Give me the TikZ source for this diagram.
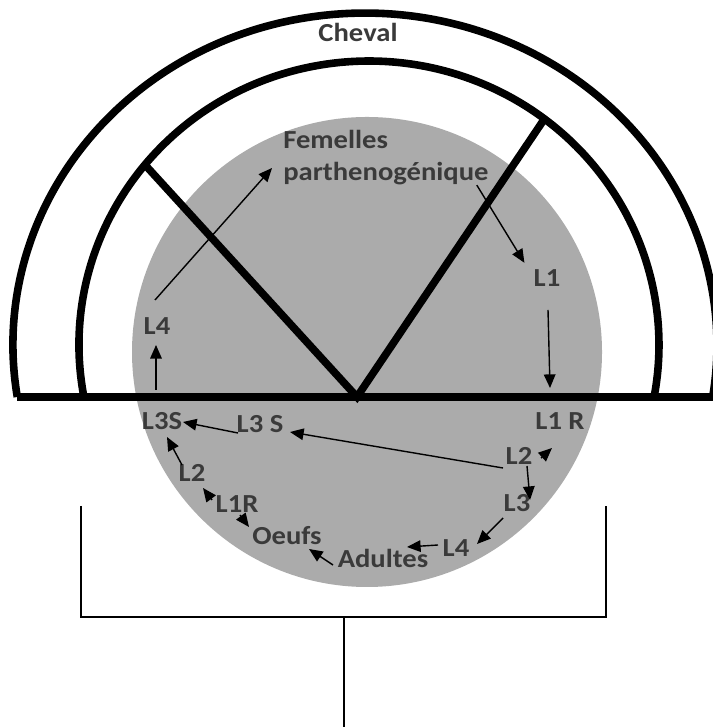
\documentclass[tikz,border=0pt]{standalone}
\usepackage{fontspec}
\setmainfont{Carlito}[FakeStretch=1.1]
\usetikzlibrary{arrows.meta}
\definecolor{cyclegrey}{HTML}{ABABAB}
\definecolor{lblgrey}{HTML}{3A3A3A}
\tikzset{
  >={Triangle[length=3.4mm,width=2.9mm]},
  lbl/.style={font=\fontsize{18.5}{22.7}\selectfont\bfseries,text=lblgrey,
              inner sep=0pt,anchor=base},
  wall/.style={line width=5.4pt},
  flow/.style={->,line width=1pt,draw=black},
  brk/.style={line width=1.3pt},
}

\begin{document}
\begin{tikzpicture}[x=0.025cm,y=0.025cm]
  \useasboundingbox (0,0) rectangle (712,727);

  % host body and parasite cycle
  \fill[cyclegrey] (367,375) circle[radius=235];
  \draw[wall] (17.3,330) arc[start angle=189,end angle=-9,x radius=352,y radius=332];
  \draw[wall] (83.9,330) arc[start angle=190.55,end angle=-10.55,x radius=290,y radius=284];
  \draw[wall] (17.3,330) -- (714,330);
  \draw[wall] (147,560) -- (357,330) -- (545,609);

  % labels
  \node[lbl] (cheval) at (358,685) {Cheval};
  \node[lbl,anchor=north west,align=left] (fem) at (283,597) {Femelles\\parthenogénique};
  \node[lbl] (l1) at (547,440) {L1};
  \node[lbl] (l4a) at (157,392) {L4};
  \node[lbl] (l3s) at (162,297) {L3S};
  \node[lbl] (l3sp) at (260,294) {L3 S};
  \node[lbl] (l1rr) at (560,297) {L1 R};
  \node[lbl] (l2r) at (519,262) {L2};
  \node[lbl] (l3) at (517,215) {L3};
  \node[lbl] (l4b) at (456,170) {L4};
  \node[lbl] (adu) at (383,159) {Adultes};
  \node[lbl] (oeu) at (287,182) {Oeufs};
  \node[lbl] (l1rl) at (237,214) {L1R};
  \node[lbl] (l2l) at (192,245) {L2};

  % inside the horse
  \draw[flow] ([shift={(-12,0)}]fem.south east) -- ([shift={(-9,7)}]l1.north west);
  \draw[flow] ([shift={(1,-23)}]l1.base) -- ([shift={(-10,42)}]l1rr.base);
  \draw[flow] ([shift={(-6,40)}]l3s.base) -- ([shift={(-1,-10)}]l4a.base);
  \draw[flow] ([shift={(-2,35)}]l4a.base) -- ([shift={(-11,-38)}]fem.north west);

  % free-living stages
  \draw[flow] ([shift={(-22,0)}]l3sp.base) -- ([shift={(21,8)}]l3s.base);
  \draw[flow] ([shift={(-16,-3)}]l2r.base) -- ([shift={(30,1)}]l3sp.base);
  \draw[flow] ([shift={(22,7)}]l2r.base) -- ([shift={(-8,-18)}]l1rr.base);
  \draw[flow] ([shift={(8,-1)}]l2r.base) -- ([shift={(13,12)}]l3.base);
  \draw[flow] ([shift={(-14,-6)}]l3.base) -- ([shift={(21,13)}]l4b.base);
  \draw[flow] ([shift={(-18,12)}]l4b.base) -- ([shift={(24,21)}]adu.base);
  \draw[flow] ([shift={(-50,3)}]adu.base) -- ([shift={(22,-4)}]oeu.base);
  \draw[flow] ([shift={(3,-2)}]l1rl.base) -- ([shift={(-38,18)}]oeu.base);
  \draw[flow] ([shift={(-25,13)}]l1rl.base) -- ([shift={(11,-6)}]l2l.base);
  \draw[flow] ([shift={(-10,17)}]l2l.base) -- ([shift={(5,-7)}]l3s.base);

  % bracket
  \draw[brk] (81,221) -- (81,110) -- (606,110) -- (606,221);
  \draw[brk] (344,110) -- (344,0);
\end{tikzpicture}
\end{document}
